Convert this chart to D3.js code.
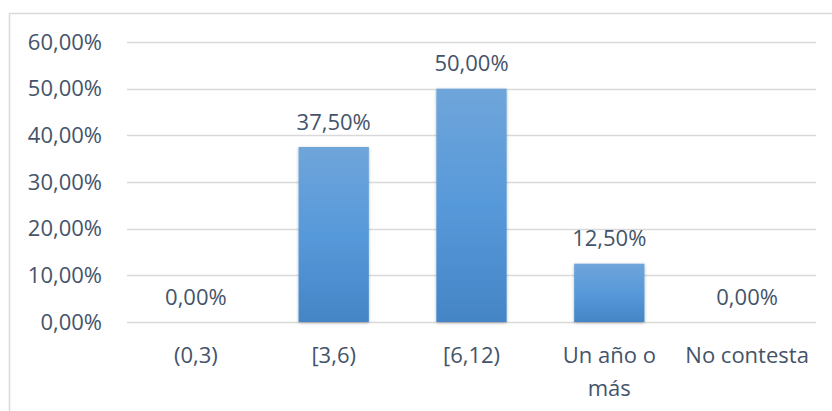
<!DOCTYPE html>
<html>
<head>
<meta charset="utf-8">
<script src="https://cdn.jsdelivr.net/npm/d3@7"></script>
<style>
  html, body { margin: 0; padding: 0; background: #fff; }
  svg { display: block; }
</style>
</head>
<body>
<div id="container"></div>
<script>
const categories = ["(0,3)", "[3,6)", "[6,12)", "Un año o más", "No contesta"];
const values = [0, 0.375, 0.5, 0.125, 0];
const yTicks = [0, 0.1, 0.2, 0.3, 0.4, 0.5, 0.6];

const width = 832;
const height = 411;
const margin = { top: 42, right: 16, bottom: 89, left: 127 };
const textColor = "#44546a";
const font = "'Open Sans', sans-serif";
const fontSize = 22;

const fmt = (v) => (v * 100).toFixed(2).replace(".", ",") + "%";

const svg = d3.select("#container")
  .append("svg")
  .attr("width", width)
  .attr("height", height);

const defs = svg.append("defs");
const grad = defs.append("linearGradient")
  .attr("id", "barGrad")
  .attr("x1", 0).attr("y1", 0).attr("x2", 0).attr("y2", 1);
grad.append("stop").attr("offset", "0%").attr("stop-color", "#6fa5da");
grad.append("stop").attr("offset", "50%").attr("stop-color", "#5799da");
grad.append("stop").attr("offset", "100%").attr("stop-color", "#4485c6");

const shadow = defs.append("filter")
  .attr("id", "shadow")
  .attr("x", "-20%").attr("y", "-10%")
  .attr("width", "140%").attr("height", "130%");
shadow.append("feDropShadow")
  .attr("dx", 0).attr("dy", 1)
  .attr("stdDeviation", 1.5)
  .attr("flood-color", "#000")
  .attr("flood-opacity", 0.3);

// chart border
svg.append("rect")
  .attr("x", 9.5).attr("y", 13.5)
  .attr("width", width).attr("height", height)
  .attr("fill", "none")
  .attr("stroke", "#d9d9d9")
  .attr("stroke-width", 1.5);

const x = d3.scaleBand()
  .domain(categories)
  .range([margin.left, width - margin.right])
  .paddingInner(0.49)
  .paddingOuter(0.245);

const y = d3.scaleLinear()
  .domain([0, 0.6])
  .range([height - margin.bottom, margin.top]);

// gridlines
svg.append("g")
  .selectAll("line")
  .data(yTicks)
  .join("line")
  .attr("x1", margin.left)
  .attr("x2", width - margin.right)
  .attr("y1", (d) => Math.round(y(d)) + 0.5)
  .attr("y2", (d) => Math.round(y(d)) + 0.5)
  .attr("stroke", "#d9d9d9")
  .attr("stroke-width", 1.5);

// y labels
svg.append("g")
  .selectAll("text")
  .data(yTicks)
  .join("text")
  .attr("x", 102)
  .attr("y", (d) => y(d))
  .attr("dy", "0.35em")
  .attr("text-anchor", "end")
  .attr("font-family", font)
  .attr("font-size", fontSize)
  .attr("fill", textColor)
  .text(fmt);

// bars
svg.append("g")
  .selectAll("rect")
  .data(values)
  .join("rect")
  .attr("x", (d, i) => x(categories[i]))
  .attr("y", (d) => y(d))
  .attr("width", x.bandwidth())
  .attr("height", (d) => y(0) - y(d))
  .attr("fill", "url(#barGrad)")
  .attr("filter", "url(#shadow)");

// value labels
svg.append("g")
  .selectAll("text")
  .data(values)
  .join("text")
  .attr("x", (d, i) => x(categories[i]) + x.bandwidth() / 2)
  .attr("y", (d) => y(d) - 25)
  .attr("dy", "0.35em")
  .attr("text-anchor", "middle")
  .attr("font-family", font)
  .attr("font-size", fontSize)
  .attr("fill", textColor)
  .text(fmt);

// category labels, wrapped like the original
const catLines = { "Un año o más": ["Un año o", "más"] };
const cat = svg.append("g")
  .selectAll("text")
  .data(categories)
  .join("text")
  .attr("x", (d) => x(d) + x.bandwidth() / 2)
  .attr("y", y(0) + 33)
  .attr("text-anchor", "middle")
  .attr("font-family", font)
  .attr("font-size", fontSize)
  .attr("fill", textColor);

cat.selectAll("tspan")
  .data((d) => (catLines[d] || [d]).map((t) => ({ t, c: d })))
  .join("tspan")
  .attr("x", (d) => x(d.c) + x.bandwidth() / 2)
  .attr("dy", (d, i) => (i === 0 ? "0.35em" : 33))
  .text((d) => d.t);
</script>
</body>
</html>
